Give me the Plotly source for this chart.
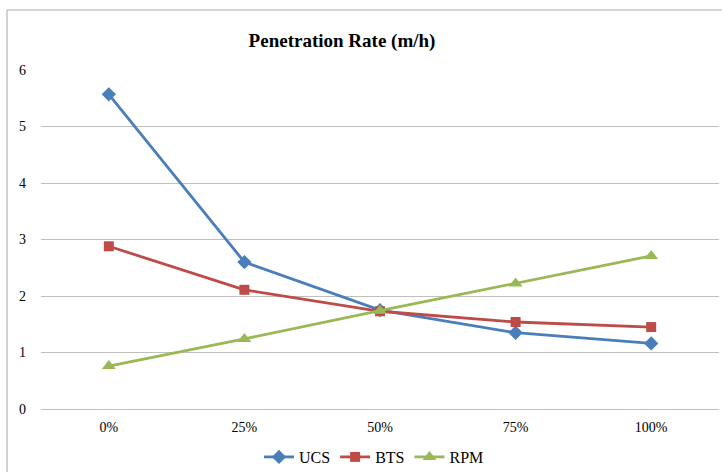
import plotly.graph_objects as go

categories = ["0%", "25%", "50%", "75%", "100%"]
ucs = [5.57, 2.60, 1.75, 1.35, 1.16]
bts = [2.88, 2.11, 1.73, 1.54, 1.45]
rpm = [0.76, 1.24, 1.74, 2.22, 2.71]

W, H = 722, 472
L, R, T, B = 41, 3, 70, 63
pw, ph = W - L - R, H - T - B

def px_x(px):
    return (px - L) / pw

def px_y(py):
    return (H - B - py) / ph

fig = go.Figure()
fig.add_trace(go.Scatter(x=categories, y=ucs, name="UCS", mode="lines+markers",
                         line=dict(color="#4A7EBB", width=2.8),
                         marker=dict(symbol="diamond", size=11, color="#4A7EBB")))
fig.add_trace(go.Scatter(x=categories, y=bts, name="BTS", mode="lines+markers",
                         line=dict(color="#BE4B48", width=2.8),
                         marker=dict(symbol="square", size=10, color="#BE4B48")))
fig.add_trace(go.Scatter(x=categories, y=rpm, name="RPM", mode="lines+markers",
                         line=dict(color="#98B954", width=2.8),
                         marker=dict(symbol="triangle-up", size=12, color="#98B954")))

fig.update_layout(
    width=W, height=H,
    margin=dict(l=L, r=R, t=T, b=B),
    paper_bgcolor="white", plot_bgcolor="white",
    font=dict(family="Liberation Serif, Times New Roman, serif", size=14, color="black"),
    title=dict(text="<b>Penetration Rate (m/h)</b>", x=342 / W, xref="container", xanchor="center",
               y=1 - 40 / H, yanchor="middle", font=dict(size=19)),
    xaxis=dict(type="category", range=[-0.5, 4.5], showgrid=False, showline=False,
               ticks="", ticklabelstandoff=8),
    yaxis=dict(range=[0, 6], dtick=1, showgrid=True, gridcolor="#BFBFBF", gridwidth=1,
               zeroline=True, zerolinecolor="#BFBFBF", zerolinewidth=1,
               showline=False, ticks="", ticklabelstandoff=14),
    legend=dict(orientation="h", xref="container", x=374 / W, xanchor="center",
                yref="container", y=1 - 457 / H, yanchor="middle",
                font=dict(size=16), itemwidth=30, tracegroupgap=0),
    showlegend=True,
)

fig.add_shape(type="line", xref="paper", yref="paper",
              x0=px_x(7), x1=px_x(7), y0=px_y(10), y1=px_y(480),
              line=dict(color="#A6A6A6", width=1))
fig.add_shape(type="line", xref="paper", yref="paper",
              x0=px_x(7), x1=px_x(730), y0=px_y(10), y1=px_y(10),
              line=dict(color="#A6A6A6", width=1))

# the page body has a default 8px margin; drop it so the figure sits at the window corner
fig.write_html("out.html", config={"displayModeBar": False},
               post_script="document.body.style.margin='0';")
